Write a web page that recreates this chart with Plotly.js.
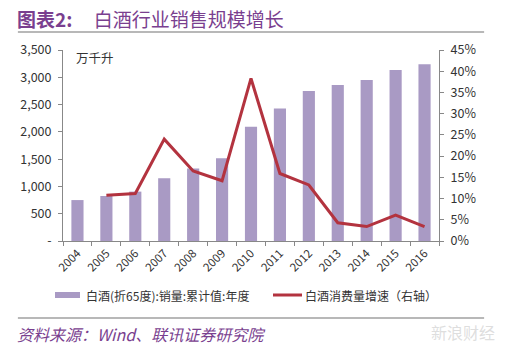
<!DOCTYPE html>
<html><head><meta charset="utf-8">
<script src="https://cdn.plot.ly/plotly-3.0.1.min.js"></script>
<style>html,body{margin:0;padding:0;background:#fff;}#c{width:507px;height:355px;}</style>
</head><body><div id="c"></div>
<script>
const years = ['2004','2005','2006','2007','2008','2009','2010','2011','2012','2013','2014','2015','2016'];
const salesVolume = [750, 825, 905, 1150, 1330, 1515, 2095, 2430, 2750, 2860, 2950, 3135, 3240];
const growthYears = ['2005','2006','2007','2008','2009','2010','2011','2012','2013','2014','2015','2016'];
const growthRate = [10.8, 11.2, 24.0, 16.5, 14.2, 38.3, 15.9, 13.2, 4.3, 3.4, 6.1, 3.4];
const leftTicks = [0, 500, 1000, 1500, 2000, 2500, 3000, 3500];
const leftTickText = ['-', '500', '1,000', '1,500', '2,000', '2,500', '3,000', '3,500'];
const rightTicks = [0, 5, 10, 15, 20, 25, 30, 35, 40, 45];
const rightTickText = rightTicks.map(v => v + '%');

const font = "'Noto Sans CJK SC', 'Noto Sans', sans-serif";
const purple = '#7a3f8f';

const traces = [
  {type:'bar', x: years, y: salesVolume, name:'白酒(折65度):销量:累计值:年度',
   marker:{color:'#a99ac4'}, yaxis:'y', showlegend:false, hoverinfo:'none'},
  {type:'scatter', mode:'lines', x: growthYears, y: growthRate, name:'白酒消费量增速（右轴）',
   line:{color:'#b3333f', width:3}, yaxis:'y2', showlegend:false, hoverinfo:'none'}
];

const layout = {
  width:507, height:355,
  margin:{l:63, r:68, t:50, b:114},
  paper_bgcolor:'#fff', plot_bgcolor:'#fff',
  font:{family:font, size:11, color:'#333'},
  bargap:0.58,
  xaxis:{type:'category', tickson:'boundaries', ticks:'outside', ticklen:4, tickcolor:'#888',
    showline:true, linecolor:'#888', linewidth:1, showgrid:false, tickangle:-45,
    tickfont:{size:11.5, color:'#333', family:font}},
  yaxis:{range:[0,3500], tickvals:leftTicks, ticktext:leftTickText, ticks:'outside', ticklen:4,
    tickcolor:'#888', showline:true, linecolor:'#888', showgrid:false, zeroline:false,
    ticklabelstandoff:4, tickfont:{size:12.5, color:'#333'}},
  yaxis2:{range:[0,45], overlaying:'y', side:'right', tickvals:rightTicks, ticktext:rightTickText,
    ticks:'outside', ticklen:4, tickcolor:'#888', showline:true, linecolor:'#888', showgrid:false,
    zeroline:false, ticklabelstandoff:4, tickfont:{size:12.5, color:'#333'}},
  shapes:[
    {type:'line', xref:'paper', yref:'paper', x0:-0.12, x1:1.12, y0:1+18/191, y1:1+18/191, line:{color:'#b8b8b8', width:2}},
    {type:'line', xref:'paper', yref:'paper', x0:-0.12, x1:1.12, y0:-77/191, y1:-77/191, line:{color:'#b8b8b8', width:2}},
    {type:'rect', xref:'paper', yref:'paper', x0:(55-63)/376, x1:(80-63)/376, y0:-(298-241)/191, y1:-(292-241)/191, fillcolor:'#a99ac4', line:{width:0}},
    {type:'line', xref:'paper', yref:'paper', x0:(273-63)/376, x1:(302-63)/376, y0:-(295-241)/191, y1:-(295-241)/191, line:{color:'#b3333f', width:3}}
  ],
  annotations:[
    {xref:'paper', yref:'paper', x:-48/376, y:1+32/191, xanchor:'left', yanchor:'middle', showarrow:false,
     text:'<b>图表2:</b>     白酒行业销售规模增长', font:{size:19, color:purple, family:font}},
    {xref:'paper', yref:'paper', x:(74-63)/376, y:1-(57-50)/191, xanchor:'left', yanchor:'middle', showarrow:false,
     text:'万千升', font:{size:12.5, color:'#333', family:font}},
    {xref:'paper', yref:'paper', x:(84-63)/376, y:-(295-241)/191, xanchor:'left', yanchor:'middle', showarrow:false,
     text:'白酒(折65度):销量:累计值:年度', font:{size:12, color:'#333', family:font}},
    {xref:'paper', yref:'paper', x:(303-63)/376, y:-(295-241)/191, xanchor:'left', yanchor:'middle', showarrow:false,
     text:'白酒消费量增速（右轴）', font:{size:12, color:'#333', family:font}},
    {xref:'paper', yref:'paper', x:(15-63)/376, y:-(334-241)/191, xanchor:'left', yanchor:'middle', showarrow:false,
     text:'<i>资料来源：Wind、联讯证券研究院</i>', font:{size:16, color:purple, family:font}},
    {xref:'paper', yref:'paper', x:(497-63)/376, y:-(332-241)/191, xanchor:'right', yanchor:'middle', showarrow:false,
     text:'新浪财经', font:{size:16, color:'rgba(200,200,200,0.6)', family:font}}
  ]
};
Plotly.newPlot('c', traces, layout, {displayModeBar:false, staticPlot:true});
</script></body></html>
